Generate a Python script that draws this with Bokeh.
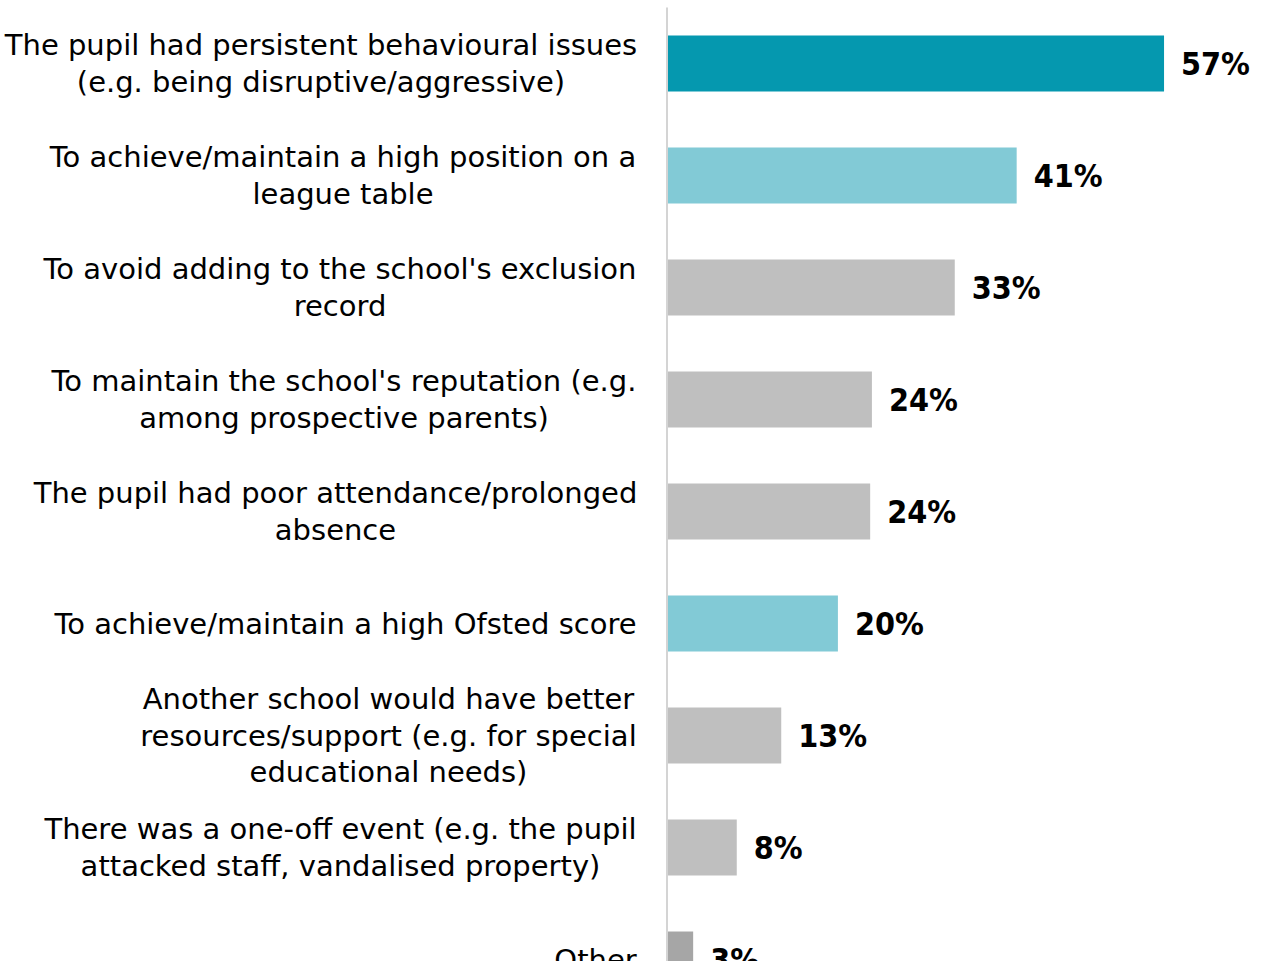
from bokeh.plotting import figure
from bokeh.models import ColumnDataSource, Range1d
from bokeh.core.properties import value
from bokeh.embed import file_html
from bokeh.resources import INLINE

# ---- data ----
categories = [
    "The pupil had persistent behavioural issues\n(e.g. being disruptive/aggressive)",
    "To achieve/maintain a high position on a\nleague table",
    "To avoid adding to the school's exclusion\nrecord",
    "To maintain the school's reputation (e.g.\namong prospective parents)",
    "The pupil had poor attendance/prolonged\nabsence",
    "To achieve/maintain a high Ofsted score",
    "Another school would have better\nresources/support (e.g. for special\neducational needs)",
    "There was a one-off event (e.g. the pupil\nattacked staff, vandalised property)",
    "Other",
]
values = [57.0, 40.1, 33.0, 23.5, 23.3, 19.6, 13.1, 8.0, 3.0]
value_labels = ["57%", "41%", "33%", "24%", "24%", "20%", "13%", "8%", "3%"]
bar_colors = ["#0598AF", "#82CAD6", "#BFBFBF", "#BFBFBF", "#BFBFBF",
              "#82CAD6", "#BFBFBF", "#BFBFBF", "#A6A6A6"]

# ---- layout constants (pixels) ----
W, H = 1260, 961
PX_PER_UNIT = 8.72
ZERO_PX = 666.5          # x of the zero line inside the frame
ROW_PX = 112.0
FIRST_ROW_PX = 63.0
LINE_H = 36.5
LABEL_GAP = 30
block_widths = [632, 588, 594, 586, 603, 583, 497, 593, 83]

FONT = "'DejaVu Sans', sans-serif"
BOLD_FONT = "'DejaVu Sans Condensed', 'DejaVu Sans', sans-serif"

x_range = Range1d(-ZERO_PX / PX_PER_UNIT, (W - ZERO_PX) / PX_PER_UNIT)
y_range = Range1d((H - FIRST_ROW_PX) / ROW_PX, -FIRST_ROW_PX / ROW_PX)

p = figure(width=W, height=H, x_range=x_range, y_range=y_range,
           output_backend="svg", toolbar_location=None,
           min_border=0, x_axis_type=None, y_axis_type=None)
p.grid.visible = False
p.outline_line_color = None
p.background_fill_color = "white"
p.border_fill_color = "white"

ys = list(range(len(categories)))
bars = ColumnDataSource(dict(y=ys, right=values, color=bar_colors, lab=value_labels))
p.hbar(y="y", left=0, right="right", height=0.5, fill_color="color",
       line_color=None, source=bars)

# vertical category axis line, starting half a row above the first bar
p.segment(x0=[0], y0=[-0.5], x1=[0], y1=[len(categories)],
          line_color="#D4D4D4", line_width=2)

p.text(x="right", y="y", text="lab", source=bars, x_offset=17,
       text_align="left", text_baseline="middle",
       text_font=value(BOLD_FONT), text_font_style="bold", text_font_size="32px",
       text_color="black")

lx, ly, lt, lxo, lyo = [], [], [], [], []
for i, (cat, bw) in enumerate(zip(categories, block_widths)):
    lines = cat.split("\n")
    n = len(lines)
    for k, line in enumerate(lines):
        lx.append(0)
        ly.append(i)
        lt.append(line)
        lxo.append(-LABEL_GAP - bw / 2)
        lyo.append((k - (n - 1) / 2) * LINE_H)
labels = ColumnDataSource(dict(x=lx, y=ly, t=lt, xo=lxo, yo=lyo))
p.text(x="x", y="y", text="t", x_offset="xo", y_offset="yo", source=labels,
       text_align="center", text_baseline="middle",
       text_font=value(FONT), text_font_size="29px", text_color="black")

open("out.html", "w").write(file_html(p, INLINE))
